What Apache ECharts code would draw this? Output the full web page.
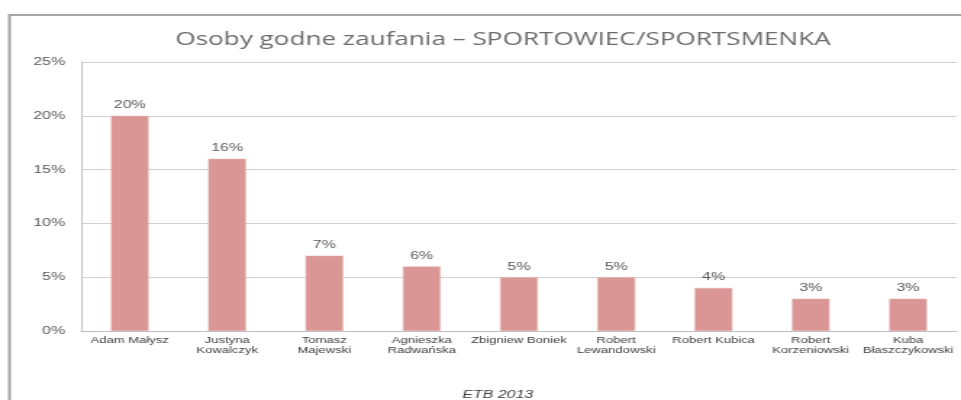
<!DOCTYPE html>
<html><head><meta charset="utf-8">
<script src="https://cdn.jsdelivr.net/npm/echarts@6/dist/echarts.min.js"></script>
<style>html,body{margin:0;padding:0;background:#fff;overflow:hidden}
#wrap{width:961px;height:400px;overflow:hidden}
#c{width:663px;height:400px;transform:scaleX(1.4495);transform-origin:0 0}</style>
</head><body><div id="wrap"><div id="c"></div></div>
<script>
const categories = ["Adam Małysz","Justyna\nKowalczyk","Tomasz\nMajewski","Agnieszka\nRadwańska","Zbigniew Boniek","Robert\nLewandowski","Robert Kubica","Robert\nKorzeniowski","Kuba\nBłaszczykowski"];
const values = [20,16,7,6,5,5,4,3,3];
const yTicks = [0,5,10,15,20,25];
const titleText = "Osoby godne zaufania – SPORTOWIEC/SPORTSMENKA";
const footerText = "ETB 2013";

const chart = echarts.init(document.getElementById('c'), null, {renderer:'canvas'});
chart.setOption({
  animation:false,
  backgroundColor:'#fff',
  title:{text:titleText,left:342,top:26,textAlign:'center',
    textStyle:{fontFamily:'Open Sans',fontSize:18,fontWeight:'normal',color:'#6b6b6b'}},
  graphic:[
    {type:'polyline',shape:{points:[[6.5,400],[6.5,15],[663,15]]},style:{stroke:'#a6a6a6',lineWidth:2,fill:null}},
    {type:'text',left:319,top:389,style:{text:footerText,font:'italic 11px Liberation Sans',fill:'#404040'}}
  ],
  grid:{left:56,right:3,top:62,bottom:69,containLabel:false},
  xAxis:{type:'category',data:categories,
    axisLine:{lineStyle:{color:'#bfbfbf'}},axisTick:{show:false},
    axisLabel:{interval:0,fontSize:9,lineHeight:10,color:'#404040',fontFamily:'Liberation Sans',margin:5}},
  yAxis:{type:'value',min:yTicks[0],max:yTicks[yTicks.length-1],interval:5,
    axisLine:{show:true,lineStyle:{color:'#bfbfbf'}},axisTick:{show:false},
    splitLine:{lineStyle:{color:'#d0d0d0'}},
    axisLabel:{formatter:v=>v+'%',fontSize:11,color:'#595959',fontFamily:'Liberation Sans',margin:11}},
  series:[{type:'bar',data:values,barWidth:26,
    itemStyle:{color:'#d99694',borderColor:'#e8b5b3',borderWidth:0.5},
    label:{show:true,position:'top',formatter:p=>p.value+'%',fontSize:11,color:'#595959',fontFamily:'Liberation Sans',distance:5}}]
});
</script></body></html>
